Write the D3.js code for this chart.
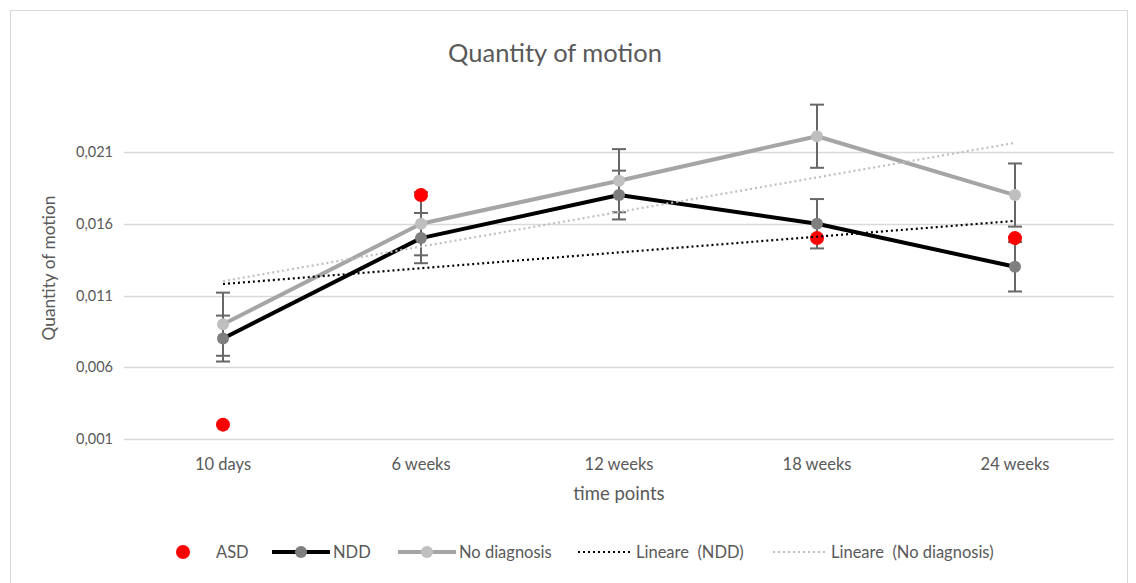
<!DOCTYPE html>
<html>
<head>
<meta charset="utf-8">
<script src="https://cdn.jsdelivr.net/npm/d3@7"></script>
<style>
  html, body { margin: 0; padding: 0; background: #fff; }
  svg { display: block; font-family: Lato, "Open Sans", sans-serif; }
</style>
</head>
<body>
<svg id="chart" width="1136" height="583"></svg>
<script>
// Time points on the x axis
const timePoints = ["10 days", "6 weeks", "12 weeks", "18 weeks", "24 weeks"];
// Mean quantity of motion per group (null = no measurement)
const asdValues = [0.002, 0.018, null, 0.015, 0.015];
const nddValues = [0.008, 0.015, 0.018, 0.016, 0.013];
const noDiagValues = [0.009, 0.016, 0.019, 0.0221, 0.018];
// Error bar half-widths
const nddErrors = [0.0016, 0.00175, 0.0017, 0.00172, 0.00172];
const noDiagErrors = [0.0022, 0.0022, 0.0022, 0.0022, 0.0022];
// Y axis ticks
const yTicks = [0.001, 0.006, 0.011, 0.016, 0.021];

const svg = d3.select("#chart");
const textColor = "#595959";
const font = "Lato, 'Open Sans', sans-serif";

// outer chart border
svg.append("rect")
  .attr("x", 10.5).attr("y", 10.5)
  .attr("width", 1117).attr("height", 580)
  .attr("fill", "none").attr("stroke", "#d9d9d9").attr("stroke-width", 1);

const left = 124, right = 1114;
const x = d3.scaleBand().domain(timePoints).range([left, right]).padding(0);
const cx = d => x(d) + x.bandwidth() / 2;
const y = d3.scaleLinear().domain([0.001, 0.021]).range([439, 152]);

// horizontal grid lines
svg.append("g")
  .selectAll("line")
  .data(yTicks)
  .join("line")
  .attr("x1", left).attr("x2", right)
  .attr("y1", d => Math.round(y(d)) + 0.5).attr("y2", d => Math.round(y(d)) + 0.5)
  .attr("stroke", "#d9d9d9").attr("stroke-width", 1.5);

// y axis tick labels
const fmt = v => d3.format(".3f")(v).replace(".", ",");
const yAxis = d3.axisLeft(y).tickValues(yTicks).tickFormat(fmt).tickSize(0).tickPadding(11);
const gy = svg.append("g").attr("transform", `translate(${left},0)`).call(yAxis);
gy.select(".domain").remove();
gy.selectAll("text").attr("fill", textColor).style("font-size", "14.5px").style("font-family", font);

// x axis tick labels
const xAxis = d3.axisBottom(x).tickSize(0).tickPadding(19);
const gx = svg.append("g").attr("transform", "translate(0,439)").call(xAxis);
gx.select(".domain").remove();
gx.selectAll("text").attr("fill", textColor).style("font-size", "16.5px").style("font-family", font);

// titles
svg.append("text").attr("x", 555).attr("y", 62).attr("text-anchor", "middle")
  .attr("fill", textColor).style("font-size", "25.5px").text("Quantity of motion");
svg.append("text").attr("x", 619).attr("y", 500).attr("text-anchor", "middle")
  .attr("fill", textColor).style("font-size", "18.5px").text("time points");
svg.append("text").attr("transform", "translate(55,268) rotate(-90)").attr("text-anchor", "middle")
  .attr("fill", textColor).style("font-size", "17.3px").text("Quantity of motion");

const line = d3.line().x(d => cx(d.t)).y(d => y(d.v));
const toPts = vals => timePoints.map((t, i) => ({ t, v: vals[i], i })).filter(d => d.v != null);

const nddPts = toPts(nddValues);
const ndPts = toPts(noDiagValues);

// series lines
svg.append("path").attr("d", line(nddPts)).attr("fill", "none")
  .attr("stroke", "#000").attr("stroke-width", 4).attr("stroke-linejoin", "round");
svg.append("path").attr("d", line(ndPts)).attr("fill", "none")
  .attr("stroke", "#a5a5a5").attr("stroke-width", 4).attr("stroke-linejoin", "round");

// error bars
function errorBars(pts, errs) {
  const g = svg.append("g").attr("stroke", "#676767").attr("stroke-width", 2).attr("fill", "none");
  pts.forEach(d => {
    const e = errs[d.i], xc = cx(d.t);
    const y0 = y(d.v - e), y1 = y(d.v + e);
    g.append("line").attr("x1", xc).attr("x2", xc).attr("y1", y0).attr("y2", y1);
    g.append("line").attr("x1", xc - 7).attr("x2", xc + 7).attr("y1", y0).attr("y2", y0);
    g.append("line").attr("x1", xc - 7).attr("x2", xc + 7).attr("y1", y1).attr("y2", y1);
  });
}
errorBars(ndPts, noDiagErrors);
errorBars(nddPts, nddErrors);

// markers
svg.append("g").selectAll("circle").data(nddPts).join("circle")
  .attr("cx", d => cx(d.t)).attr("cy", d => y(d.v)).attr("r", 6).attr("fill", "#7f7f7f");
svg.append("g").selectAll("circle").data(ndPts).join("circle")
  .attr("cx", d => cx(d.t)).attr("cy", d => y(d.v)).attr("r", 6).attr("fill", "#bfbfbf");
svg.append("g").selectAll("circle").data(toPts(asdValues)).join("circle")
  .attr("cx", d => cx(d.t)).attr("cy", d => y(d.v)).attr("r", 7).attr("fill", "#ff0000");

// linear trend lines (least squares over the time point index)
function trend(pts) {
  const xs = pts.map(d => d.i + 1), ys = pts.map(d => d.v);
  const mx = d3.mean(xs), my = d3.mean(ys);
  const slope = d3.sum(xs, (xi, k) => (xi - mx) * (ys[k] - my)) / d3.sum(xs, xi => (xi - mx) ** 2);
  const icpt = my - slope * mx;
  const first = timePoints[0], last = timePoints[timePoints.length - 1];
  return [{ t: first, v: icpt + slope * 1 }, { t: last, v: icpt + slope * timePoints.length }];
}
svg.append("path").attr("d", line(trend(ndPts))).attr("fill", "none")
  .attr("stroke", "#bfbfbf").attr("stroke-width", 2.2).attr("stroke-dasharray", "2,3");
svg.append("path").attr("d", line(trend(nddPts))).attr("fill", "none")
  .attr("stroke", "#000").attr("stroke-width", 2.2).attr("stroke-dasharray", "2,3");

// legend
const ly = 552;
const lg = svg.append("g").style("font-size", "16.5px").attr("fill", textColor);
lg.append("circle").attr("cx", 183).attr("cy", ly).attr("r", 7).attr("fill", "#ff0000");
lg.append("text").attr("x", 216).attr("y", ly + 6).text("ASD");
lg.append("line").attr("x1", 272).attr("x2", 330).attr("y1", ly).attr("y2", ly)
  .attr("stroke", "#000").attr("stroke-width", 4);
lg.append("circle").attr("cx", 301).attr("cy", ly).attr("r", 6).attr("fill", "#7f7f7f");
lg.append("text").attr("x", 333).attr("y", ly + 6).text("NDD");
lg.append("line").attr("x1", 398).attr("x2", 456).attr("y1", ly).attr("y2", ly)
  .attr("stroke", "#a5a5a5").attr("stroke-width", 4);
lg.append("circle").attr("cx", 427).attr("cy", ly).attr("r", 6).attr("fill", "#bfbfbf");
lg.append("text").attr("x", 459).attr("y", ly + 6).text("No diagnosis");
lg.append("line").attr("x1", 578).attr("x2", 630).attr("y1", ly).attr("y2", ly)
  .attr("stroke", "#000").attr("stroke-width", 2.2).attr("stroke-dasharray", "2,3");
lg.append("text").attr("x", 636).attr("y", ly + 6).attr("xml:space", "preserve").text("Lineare  (NDD)");
lg.append("line").attr("x1", 773).attr("x2", 826).attr("y1", ly).attr("y2", ly)
  .attr("stroke", "#bfbfbf").attr("stroke-width", 2.2).attr("stroke-dasharray", "2,3");
lg.append("text").attr("x", 831).attr("y", ly + 6).attr("xml:space", "preserve").text("Lineare  (No diagnosis)");
</script>
</body>
</html>
